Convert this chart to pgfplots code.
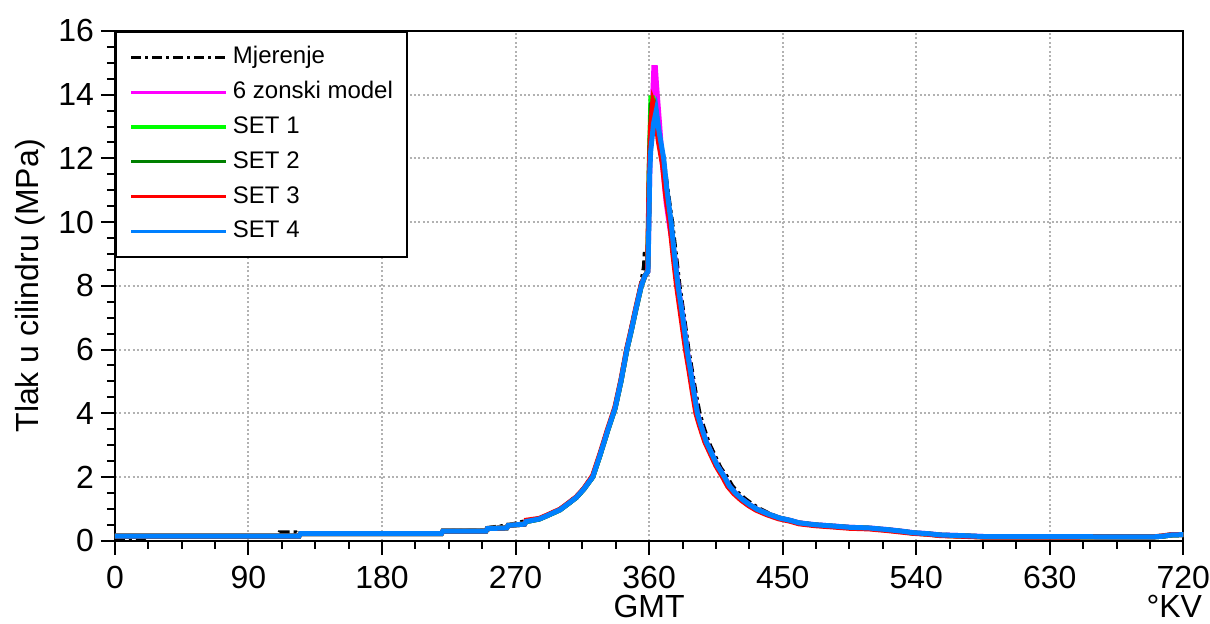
\documentclass[border=0pt]{standalone}
\usepackage{pgfplots}
\pgfplotsset{compat=1.18}
\usepackage{fontspec}
\setmainfont{Liberation Sans}
\definecolor{myblue}{RGB}{0,128,255}
\definecolor{mygreen}{RGB}{0,255,0}
\definecolor{mydkgreen}{RGB}{0,128,0}
\definecolor{mymag}{RGB}{255,0,255}
\begin{document}
\begin{tikzpicture}
\begin{axis}[
 scale only axis, width=534.5pt, height=255pt,
 clip mode=individual,
 xmin=0,xmax=720,ymin=0,ymax=16,
 xtick={0,90,...,720}, ytick={0,2,...,16}, minor tick num=3,
 tick pos=left, tick align=outside,
 major tick length=7pt, minor tick length=4pt,
 every tick/.style={black, line width=1pt},
 axis line style={line width=1pt},
 grid=major, grid style={black!30, line width=1pt, dash pattern=on 1pt off 1.2pt},
 /pgf/number format/assume math mode=true,
 tick label style={font=\fontsize{16}{19}\selectfont},
 xticklabel style={yshift=-2pt, inner xsep=0pt},
 xlabel={GMT}, ylabel={Tlak u cilindru (MPa)},
 every axis x label/.style={at={([yshift=-33pt]rel axis cs:0.5,0)}, anchor=center, inner sep=0pt, font=\fontsize{16}{19}\selectfont},
 every axis y label/.style={at={([xshift=-42.5pt]rel axis cs:0,0.5)}, rotate=90, anchor=center, inner sep=0pt, font=\fontsize{16}{19}\selectfont},
 legend cell align=left,
 legend image code/.code={\path (-2pt,0pt); \draw[#1, line width=1.6pt] (0pt,0pt) -- (47.5pt,0pt);},
 legend style={at={(0,1)}, anchor=north west, draw=black, line width=1pt,
   font=\fontsize{12}{14}\selectfont, inner xsep=4.5pt, inner ysep=4.5pt,
   nodes={inner sep=2.5pt, text height=9pt, text depth=2.5pt}, row sep=0.9pt},
]
\addplot[black, line width=2pt, dash pattern=on 5pt off 2pt on 1.5pt off 2pt] coordinates {
(0,0.09) (20,0.09) (21,0.14) (110,0.14) (111,0.26) (122,0.26) (123,0.22) (220,0.22) (221,0.30) (250,0.32) (251,0.40) (265,0.48) (277,0.62) (286,0.70) (291,0.80) (300,1.0) (306,1.2) (311,1.4) (316,1.65) (322,2.05) (327,2.75) (332,3.5) (337,4.2) (341,5.05) (345,6.05) (348,6.7) (351,7.3) (354.7,8.1) (356.5,8.6) (357,9.0) (359,9.0) (359.6,10.5) (360.5,12.0) (362,12.8) (365,13.2) (367,12.6) (370,11.9) (372.5,11.0) (375.5,10.0) (378,9.0) (380.5,8.0) (383.6,7.0) (386.5,6.0) (389,5.3) (391.5,4.6) (394,4.0) (396.5,3.6) (400,3.1) (404,2.7) (408,2.3) (412.5,2.0) (416,1.72) (420,1.5) (425,1.3) (430,1.13) (435,0.99) (441,0.85) (448,0.72) (461,0.57) (472,0.51) (495,0.43) (520,0.36) (538,0.26) (556,0.19) (586,0.14) (700,0.13) (706,0.15) (720,0.19)
};
\addlegendentry{Mjerenje}
\addplot[mymag, line width=2.5pt] coordinates {
(0,0.14) (124,0.14) (125,0.22) (220,0.22) (221,0.30) (250,0.30) (251,0.38) (264,0.40) (265,0.48) (276,0.52) (277,0.60) (286,0.68) (291,0.78) (300,0.97) (306,1.18) (311,1.36) (316,1.62) (322,2.0) (327,2.7) (332,3.45) (337,4.15) (341,5.0) (345,6.0) (348,6.6) (351,7.25) (354.7,8.0) (357,8.3) (359.2,8.45) (359.6,9.5) (360.6,12.0) (362,13.5) (363.2,14.85) (364.2,14.85) (365,14.3) (367,13.1) (369,11.8) (371.5,10.6) (374,9.8) (377,9.0) (379.5,8.0) (382.6,7.04) (385.5,6.0) (388,5.3) (390,4.7) (392.5,4.0) (395,3.6) (398.5,3.1) (402,2.75) (406,2.35) (410.8,2.0) (414,1.72) (418,1.50) (423,1.29) (428,1.12) (433,0.98) (440,0.84) (448,0.71) (455,0.64) (461,0.56) (472,0.50) (484,0.46) (495,0.42) (508,0.40) (520,0.35) (530,0.30) (538,0.25) (548,0.22) (556,0.18) (570,0.16) (586,0.13) (700,0.12) (706,0.14) (712,0.18) (720,0.19)
};
\addlegendentry{6 zonski model}
\addplot[mygreen, line width=2.5pt] coordinates {
(0,0.14) (124,0.14) (125,0.22) (220,0.22) (221,0.30) (250,0.30) (251,0.38) (264,0.40) (265,0.48) (276,0.52) (277,0.60) (286,0.68) (291,0.78) (300,0.97) (306,1.18) (311,1.36) (316,1.62) (322,2.0) (327,2.7) (332,3.45) (337,4.15) (341,5.0) (345,6.0) (348,6.6) (351,7.25) (354.7,8.0) (357,8.3) (359,8.45) (359.4,9.5) (360.2,12.0) (361.2,13.9) (362.5,13.9) (364,13.7) (366,12.8) (369.3,12.0) (371.5,11.0) (374.3,10.0) (376.5,9.0) (379,8.0) (382,7.0) (385,6.0) (387.5,5.3) (389.5,4.7) (392,4.0) (394.5,3.6) (398,3.1) (401.5,2.75) (405.5,2.35) (410.3,2.0) (413.5,1.72) (417.5,1.50) (422.5,1.29) (427.5,1.12) (432.5,0.98) (439.5,0.84) (447.5,0.71) (455,0.63) (461,0.55) (472,0.49) (484,0.45) (495,0.41) (508,0.39) (520,0.34) (530,0.29) (538,0.24) (548,0.21) (556,0.17) (570,0.15) (586,0.12) (700,0.12) (706,0.14) (712,0.18) (720,0.19)
};
\addlegendentry{SET 1}
\addplot[mydkgreen, line width=2.5pt] coordinates {
(0,0.14) (124,0.14) (125,0.22) (220,0.22) (221,0.30) (250,0.30) (251,0.38) (264,0.40) (265,0.48) (276,0.52) (277,0.60) (286,0.68) (291,0.78) (300,0.97) (306,1.18) (311,1.36) (316,1.62) (322,2.0) (327,2.7) (332,3.45) (337,4.15) (341,5.0) (345,6.0) (348,6.6) (351,7.25) (354.7,8.0) (357,8.3) (359,8.45) (359.5,9.5) (360.3,12.0) (361.5,13.7) (363,13.75) (364.5,13.5) (366.5,12.7) (369.5,11.9) (371.7,10.9) (374.4,10.0) (376.6,9.0) (379,8.0) (382,7.0) (385,6.0) (387.5,5.3) (389.5,4.7) (392,4.0) (394.5,3.6) (398,3.1) (401.5,2.75) (405.5,2.35) (410.3,2.0) (413.5,1.72) (417.5,1.50) (422.5,1.29) (427.5,1.12) (432.5,0.98) (439.5,0.84) (447.5,0.71) (455,0.63) (461,0.55) (472,0.49) (484,0.45) (495,0.41) (508,0.39) (520,0.34) (530,0.29) (538,0.24) (548,0.21) (556,0.17) (570,0.15) (586,0.12) (700,0.12) (706,0.14) (712,0.18) (720,0.19)
};
\addlegendentry{SET 2}
\addplot[red, line width=2.5pt] coordinates {
(0,0.14) (124,0.14) (125,0.22) (220,0.22) (221,0.30) (250,0.30) (251,0.38) (264,0.40) (265,0.48) (276,0.52) (277,0.64) (286,0.70) (291,0.80) (300,0.99) (306,1.2) (311,1.38) (316,1.64) (322,2.05) (327,2.75) (332,3.5) (337,4.2) (341,5.05) (345,6.05) (348,6.65) (351,7.3) (354.7,8.05) (357,8.3) (359,8.45) (359.3,9.5) (360,11.5) (361,13.0) (362.5,13.8) (364,13.6) (366,12.6) (369,11.8) (371,10.9) (373.8,10.0) (376,9.0) (378.5,8.0) (381.5,7.0) (384.5,6.0) (387,5.3) (389,4.7) (391.5,4.0) (394,3.6) (397.5,3.1) (401,2.75) (405,2.35) (409.5,2.0) (413,1.70) (417,1.48) (422,1.27) (427,1.10) (432,0.96) (439,0.82) (447,0.69) (455,0.61) (461,0.53) (472,0.47) (484,0.43) (495,0.39) (508,0.37) (520,0.32) (530,0.27) (538,0.23) (548,0.20) (556,0.16) (570,0.14) (586,0.11) (700,0.12) (706,0.15) (712,0.19) (720,0.19)
};
\addlegendentry{SET 3}
\addplot[myblue, line width=2.5pt] coordinates {
(0,0.14) (124,0.14) (125,0.22) (220,0.22) (221,0.30) (250,0.30) (251,0.38) (264,0.40) (265,0.48) (276,0.52) (277,0.60) (286,0.68) (291,0.78) (300,0.97) (306,1.18) (311,1.36) (316,1.62) (322,2.0) (327,2.7) (332,3.45) (337,4.15) (341,5.0) (345,6.0) (348,6.6) (351,7.25) (354.7,8.0) (357,8.3) (359.2,8.45) (359.7,9.6) (360.4,11.5) (361,12.2) (363,13.1) (364.8,13.5) (366.5,12.9) (369.8,12.0) (372,11.0) (374.8,10.0) (377,9.0) (379.5,8.0) (382.6,7.04) (385.5,6.0) (388,5.3) (390,4.7) (392.5,4.0) (395,3.6) (398.5,3.1) (402,2.75) (406,2.35) (410.8,2.0) (414,1.72) (418,1.50) (423,1.29) (428,1.12) (433,0.98) (440,0.84) (448,0.71) (455,0.64) (461,0.56) (472,0.50) (484,0.46) (495,0.42) (508,0.40) (520,0.35) (530,0.30) (538,0.25) (548,0.22) (556,0.18) (570,0.16) (586,0.13) (700,0.12) (706,0.14) (712,0.18) (720,0.19)
};
\addlegendentry{SET 4}
\node[font=\fontsize{16}{19}\selectfont, inner sep=0pt] at ([xshift=-4.5pt, yshift=-33pt]rel axis cs:1,0) {°KV};
\path ([yshift=15.5pt]rel axis cs:0,1);
\path ([yshift=-41.5pt]rel axis cs:0,0);
\path ([xshift=-57.5pt]rel axis cs:0,0.5);
\end{axis}
\end{tikzpicture}
\end{document}
